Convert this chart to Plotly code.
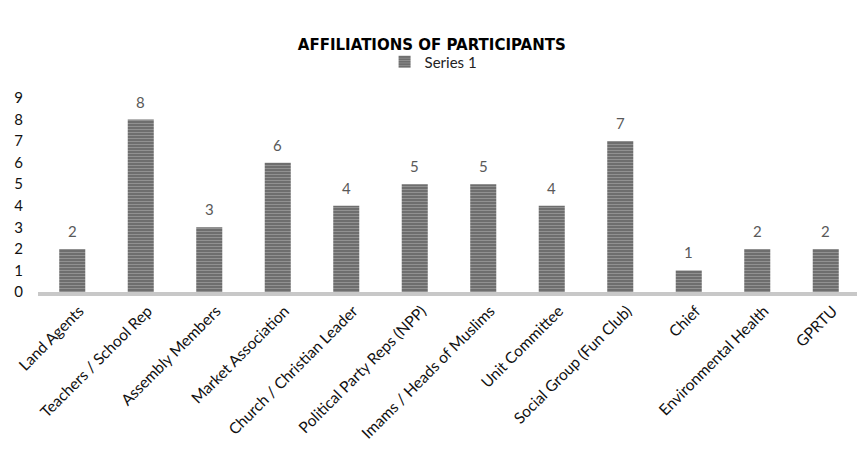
import plotly.graph_objects as go

categories = ["Land Agents", "Teachers / School Rep", "Assembly Members", "Market Association",
              "Church / Christian Leader", "Political Party Reps (NPP)", "Imams / Heads of Muslims",
              "Unit Committee", "Social Group (Fun Club)", "Chief", "Environmental Health", "GPRTU"]
values = [2, 8, 3, 6, 4, 5, 5, 4, 7, 1, 2, 2]
y_ticks = list(range(0, 10))

fig = go.Figure()
fig.add_trace(go.Bar(
    x=categories, y=values, name="Series 1",
    marker=dict(color="#7a7a7a", line=dict(width=0),
                pattern=dict(shape="-", fgcolor="#b8b8b8", bgcolor="#6a6a6a", size=3, solidity=0.4)),
    showlegend=True,
))

for c, v in zip(categories, values):
    fig.add_annotation(x=c, y=v, text=str(v), showarrow=False, yanchor="bottom", yshift=7,
                       font=dict(family="Lato, sans-serif", size=15, color="#595959"))

fig.update_layout(
    width=865, height=454,
    paper_bgcolor="white", plot_bgcolor="white",
    margin=dict(l=30, r=13, t=90, b=170, autoexpand=False),
    title=dict(text="<b>AFFILIATIONS OF PARTICIPANTS</b>", x=0.49, xanchor="center",
               xref="container", yref="container", y=1 - 37 / 454, yanchor="middle",
               font=dict(family="DejaVu Sans, sans-serif", size=15, color="#000000")),
    legend=dict(orientation="h", xref="container", x=0.492, xanchor="center",
                yref="container", y=1 - 54 / 454, yanchor="middle",
                font=dict(family="Lato, sans-serif", size=15, color="#222222"),
                itemwidth=30),
    bargap=0.62,
    font=dict(family="Lato, sans-serif"),
)
fig.update_xaxes(tickangle=-45, showline=True, linecolor="#c8c8c8", linewidth=4,
                 tickfont=dict(family="Lato, sans-serif", size=15.5, color="#111111"),
                 ticks="", showgrid=False, automargin=False, ticklabelshift=7)
fig.update_yaxes(range=[0, 9], tickvals=y_ticks, showgrid=False, zeroline=False, showline=False,
                 tickfont=dict(family="Lato, sans-serif", size=15, color="#111111"), ticks="",
                 automargin=False, ticklabelstandoff=14)

fig.write_html("out.html")
